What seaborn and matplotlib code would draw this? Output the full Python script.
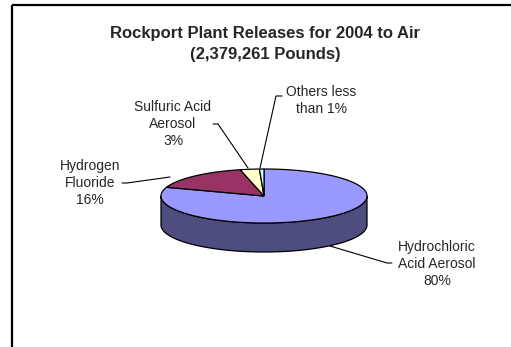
import numpy as np
import matplotlib
matplotlib.use("Agg")
import matplotlib.pyplot as plt
from matplotlib.patches import Polygon, Rectangle
import seaborn as sns

# Releases to air, share of total pounds (percent)
categories = ["Hydrochloric\nAcid Aerosol", "Hydrogen\nFluoride", "Sulfuric Acid\nAerosol", "Others less\nthan 1%"]
shares = [80, 16, 3, 0.7]
pct_labels = ["80%", "16%", "3%", ""]
title_lines = ["Rockport Plant Releases for 2004 to Air", "(2,379,261 Pounds)"]

sns.set_theme(style="white")
plt.rcParams["font.family"] = ["Liberation Sans", "DejaVu Sans"]

top_colors = sns.color_palette(["#9999FF", "#993366", "#FFFFCC", "#CCFFFF"])
side_colors = [tuple(c * 0.5 for c in col) for col in top_colors]

W, H = 511, 347
fig = plt.figure(figsize=(W / 100, H / 100), dpi=100)
ax = fig.add_axes([0, 0, 1, 1])
ax.set_xlim(0, W)
ax.set_ylim(H, 0)
ax.axis("off")

# chart-area frame (runs off the right and bottom edges)
ax.add_patch(Rectangle((11.5, 4.5), 700, 500, fill=False, ec="black", lw=1.6))

# title
ax.text(265, 44, "\n".join(title_lines), ha="center", va="center",
        fontsize=12, fontweight="bold", linespacing=1.5)

# 3-D pie geometry (pixel units)
cx, cy, rx, ry, depth = 264, 196, 103, 27, 29


def rim(t):
    t = np.asarray(t)
    return cx + rx * np.cos(t), cy - ry * np.sin(t)


fracs = np.array(shares, dtype=float) / np.sum(shares)
starts = 90 - 360 * np.concatenate([[0], np.cumsum(fracs)[:-1]])
ends = starts - 360 * fracs

# side walls: only the front half (angles 180..360) is visible
for a1, a2, col in zip(starts, ends, side_colors):
    lo, hi = min(a1, a2), max(a1, a2)
    for k in range(-1, 2):
        s_lo, s_hi = max(lo, 180 + 360 * k), min(hi, 360 + 360 * k)
        if s_hi <= s_lo:
            continue
        t = np.radians(np.linspace(s_lo, s_hi, 120))
        x, y = rim(t)
        pts = np.column_stack([np.r_[x, x[::-1]], np.r_[y, y[::-1] + depth]])
        ax.add_patch(Polygon(pts, closed=True, fc=col, ec="black", lw=0.9, joinstyle="round"))

# top faces
for a1, a2, col in zip(starts, ends, top_colors):
    t = np.radians(np.linspace(a1, a2, max(int(abs(a1 - a2) * 2), 4)))
    x, y = rim(t)
    pts = np.column_stack([np.r_[cx, x], np.r_[cy, y]])
    ax.add_patch(Polygon(pts, closed=True, fc=col, ec="black", lw=0.9, joinstyle="miter"))

# data labels with leader lines
label_pos = [(437, 264), (90, 183), (173, 124), (321, 100.5)]
leaders = [
    [(392, 263), (387, 263), (330, 246)],
    [(122, 183), (127, 183), (170, 177)],
    [(213, 124), (218, 124), (248, 168)],
    [(282, 96), (276, 96), (260, 168)],
]
for name, pct, (lx, ly), path in zip(categories, pct_labels, label_pos, leaders):
    text = name + ("\n" + pct if pct else "")
    ax.text(lx, ly, text, ha="center", va="center", fontsize=10, linespacing=1.3)
    px, py = zip(*path)
    ax.plot(px, py, color="black", lw=0.8)

fig.savefig("out.png", dpi=100)
